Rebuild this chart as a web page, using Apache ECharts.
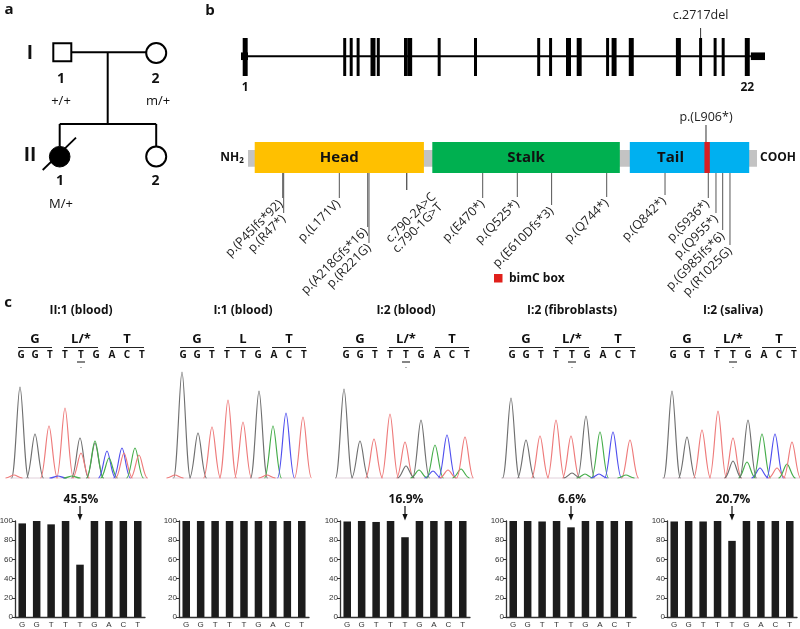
<!DOCTYPE html>
<html><head><meta charset="utf-8">
<script src="https://cdn.jsdelivr.net/npm/echarts@6/dist/echarts.min.js"></script>
<style>html,body{margin:0;padding:0;background:#fff}#c{width:800px;height:629px}</style>
</head><body><div id="c"></div>
<script>
// ================= DATA =================
// panel c: sequenced bases and samples
const bases = ['G','G','T','T','T','G','A','C','T'];
const samples = ['II:1 (blood)','I:1 (blood)','I:2 (blood)','I:2 (fibroblasts)','I:2 (saliva)'];
const codons = [['G','L/*','T'],['G','L','T'],['G','L/*','T'],['G','L/*','T'],['G','L/*','T']];
const mutantLabels = ['45.5%', '', '16.9%', '6.6%', '20.7%'];
// wild-type allele percentage per base
const wtII1blood   = [97.5,100,96.5,100,54.5,100,100,100,100];
const wtI1blood    = [100,100,100,100,100,100,100,100,100];
const wtI2blood    = [99.5,100,99,100,83.1,100,100,100,100];
const wtI2fibro    = [100,100,99.5,100,93.4,100,100,100,100];
const wtI2saliva   = [99.5,100,99.5,100,79.3,100,100,100,100];
// chromatogram peaks: [trace position, peak height, base channel]
const chromII1 = [[10,91,'G'],[25,44,'G'],[39,52,'T'],[55,70,'T'],[70,40,'G'],[71,25,'T'],[85,35,'G'],[85,37,'A'],[97,27,'C'],[99,20,'A'],[112,30,'C'],[114,25,'T'],[125,30,'A'],[129,23,'T'],[4,3,'T'],[48,2,'C'],[62,2,'A']];
const chromI1   = [[10,106,'G'],[26,45,'G'],[40,51,'T'],[56,78,'T'],[71,56,'T'],[87,87,'G'],[101,52,'A'],[114,65,'C'],[131,61,'T'],[3,3,'T'],[95,3,'T']];
const chromI2b  = [[9,89,'G'],[25,37,'G'],[39,39,'T'],[55,64,'T'],[70,36,'T'],[71,12,'G'],[84,8,'A'],[86,58,'G'],[98,7,'C'],[100,33,'A'],[112,43,'C'],[113,8,'T'],[126,9,'A'],[130,41,'T']];
const chromI2f  = [[10,80,'G'],[25,38,'G'],[39,42,'T'],[55,58,'T'],[70,42,'T'],[71,5,'G'],[84,4,'A'],[85,62,'G'],[99,46,'A'],[98,4,'C'],[112,46,'C'],[129,38,'T'],[125,3,'A']];
const chromI2s  = [[10,87,'G'],[25,41,'G'],[40,48,'T'],[56,67,'T'],[71,40,'T'],[71,17,'G'],[85,16,'A'],[86,58,'G'],[98,10,'C'],[100,44,'A'],[113,44,'C'],[115,10,'T'],[125,14,'A'],[130,36,'T']];
// panel b: gene exons (schematic position, thick flag)
const exonPos   = [8.0,197.9,210.3,223.5,251.9,262.0,313.9,321.9,378.2,447.5,568.1,590.8,625.0,645.4,699.6,712.0,744.8,834.7,877.1,904.8,920.2,966.2];
const exonThick = [1,0,0,0,1,0,0,1,0,0,0,0,1,1,0,1,1,1,0,0,0,1];
const exonLabels = {0:'1', 21:'22'};
const variantExon = 18; const variantName = 'c.2717del';
const utrSpans = [[0,13.4],[973,1000]];
// protein domains (schematic units)
const domainNames = ['Head','Stalk','Tail'];
const domainStart = [13.2,362.1,750.1];
const domainEnd   = [345.6,730.5,984.7];
const bimC = [896.7,907.3];
const mutNames = ['p.(P45Ifs*92)','p.(R47*)','p.(L171V)','p.(A218Gfs*16)','p.(R221G)','c.790-2A>C','c.790-1G>T','p.(E470*)','p.(Q525*)','p.(E610Dfs*3)','p.(Q744*)','p.(Q842*)','p.(S936*)','p.(Q955*)','p.(G985Ifs*6)','p.(R1025G)'];
const mutPos   = [68.2,70.1,179.4,235.2,237.7,311.8,311.8,461.1,529.1,596.5,704.7,819.3,904.3,919.4,932.6,946.9];
const topMutName = 'p.(L906*)'; const topMutPos = 899.8;

// ================= LAYOUT =================
const F = '"Open Sans","Noto Sans",sans-serif';
const off = [0,162,325,491,652];
const barOff = [0,164,325,491,652];
const mutLineBottom = [198,213,198,227,243,190,190,198,197,205,197,195,198,213,230,245];
const mutTextDx = [-2,0,-1,-2,0,27,34,0,0,0,0,-1,-1,0,0,0];
const mutTextDy = [4,4,4,3,3,5,15,4,5,4,4,4,4,4,4,4];
const chColors = {G:'#6f6f6f', T:'#ee7a7a', A:'#45ad4a', C:'#4f4fee'};
const domColors = ['#FFC000','#00B050','#00B0F0'];

const chart = echarts.init(document.getElementById('c'));
const grids = [], xAxes = [], yAxes = [], series = [];
const wtSets = [wtII1blood, wtI1blood, wtI2blood, wtI2fibro, wtI2saliva];
const chromSets = [chromII1, chromI1, chromI2b, chromI2f, chromI2s];

for (let i = 0; i < 5; i++) {
  grids.push({left: 15 + barOff[i], width: 130, top: 521, height: 96, outerBoundsMode: 'none'});
  xAxes.push({type:'category', gridIndex:i, data: bases.map((b,k)=>k),
    axisLine:{lineStyle:{color:'#333', width:1.3}}, axisTick:{show:false},
    axisLabel:{formatter:(v)=>bases[+v], fontSize:8, color:'#333', margin:4, fontFamily:'"Liberation Sans",Arial'}});
  yAxes.push({type:'value', gridIndex:i, min:0, max:100, interval:20, splitLine:{show:false},
    axisLine:{show:true, lineStyle:{color:'#333', width:1.3}}, axisTick:{show:true, length:3, lineStyle:{color:'#333'}},
    axisLabel:{fontSize:8, color:'#333', margin:2, fontFamily:'"Liberation Sans",Arial'}});
  series.push({type:'bar', xAxisIndex:i, yAxisIndex:i, data: wtSets[i], barCategoryGap:'48%',
    itemStyle:{color:'#1c1c1c'}, silent:true});
}
for (let i = 0; i < 5; i++) {
  grids.push({left: off[i] + 10, width: 140, top: 368, height: 110, outerBoundsMode: 'none'});
  xAxes.push({type:'value', gridIndex:5+i, min:0, max:140, show:false});
  yAxes.push({type:'value', gridIndex:5+i, min:0, max:110, show:false});
  series.push({type:'custom', xAxisIndex:5+i, yAxisIndex:5+i,
    data: chromSets[i].map(p => [p[0], p[1], 'GTAC'.indexOf(p[2])]),
    renderItem: (params, api) => {
      const x = api.value(0), h = api.value(1), ch = 'GTAC'[api.value(2)];
      const t = api.coord([x, h]), b = api.coord([x, 0]);
      const w = api.size([8.5, 0])[0];
      const s = {stroke: chColors[ch], fill: null, lineWidth: 1.15};
      return {type:'group', children:[
        {type:'bezierCurve', shape:{x1:t[0]-w, y1:b[1], cpx1:t[0]-0.55*w, cpy1:b[1], cpx2:t[0]-0.3*w, cpy2:t[1], x2:t[0], y2:t[1]}, style:s},
        {type:'bezierCurve', shape:{x1:t[0], y1:t[1], cpx1:t[0]+0.3*w, cpy1:t[1], cpx2:t[0]+0.55*w, cpy2:b[1], x2:t[0]+w, y2:b[1]}, style:s}
      ]};
    }});
}
// gene grid (10)
grids.push({left:241, width:524, top:38, height:38, outerBoundsMode:'none'});
xAxes.push({type:'value', gridIndex:10, min:0, max:1000, show:false});
yAxes.push({type:'value', gridIndex:10, min:0, max:1, show:false});
series.push({type:'custom', xAxisIndex:10, yAxisIndex:10, data:[[0, 973]],
  renderItem:(params, api)=>{
    const a = api.coord([api.value(0), 0.52]), b = api.coord([api.value(1), 0.52]);
    return {type:'line', shape:{x1:a[0], y1:a[1], x2:b[0], y2:b[1]}, style:{stroke:'#000', lineWidth:2}};
  }});
series.push({type:'custom', xAxisIndex:10, yAxisIndex:10, data: utrSpans,
  renderItem:(params, api)=>{
    const a = api.coord([api.value(0), 0.62]), b = api.coord([api.value(1), 0.42]);
    return {type:'rect', shape:{x:a[0], y:a[1], width:b[0]-a[0], height:b[1]-a[1]}, style:{fill:'#000'}};
  }});
series.push({type:'custom', xAxisIndex:10, yAxisIndex:10,
  data: exonPos.map((p,k)=>[p, exonThick[k] ? 9.5 : 5.7, k]),
  renderItem:(params, api)=>{
    const p = api.value(0), w = api.value(1), k = api.value(2);
    const a = api.coord([p - w/2, 1]), b = api.coord([p + w/2, 0]);
    const ch = [{type:'rect', shape:{x:a[0], y:a[1], width:b[0]-a[0], height:b[1]-a[1]}, style:{fill:'#000'}}];
    if (exonLabels[k]) ch.push({type:'text', x:(a[0]+b[0])/2, y:b[1]+12, style:{text:exonLabels[k], font:'bold 12px '+F, fill:'#111', align:'center', verticalAlign:'middle'}});
    if (k === variantExon) {
      const cx = (a[0]+b[0])/2;
      ch.push({type:'line', shape:{x1:cx, y1:a[1]-10, x2:cx, y2:a[1]}, style:{stroke:'#333', lineWidth:1}});
      ch.push({type:'text', x:cx, y:a[1]-23, style:{text:variantName, font:'12.5px '+F, fill:'#222', align:'center', verticalAlign:'middle'}});
    }
    return {type:'group', children:ch};
  }});
// protein grid (11)
grids.push({left:248, width:509, top:142, height:31, outerBoundsMode:'none'});
xAxes.push({type:'value', gridIndex:11, min:0, max:1000, show:false});
yAxes.push({type:'value', gridIndex:11, min:0, max:1, show:false});
series.push({type:'custom', xAxisIndex:11, yAxisIndex:11, data:[[0,1000]],
  renderItem:(params, api)=>{
    const a = api.coord([api.value(0), 0.74]), b = api.coord([api.value(1), 0.2]);
    return {type:'rect', shape:{x:a[0], y:a[1], width:b[0]-a[0], height:b[1]-a[1]}, style:{fill:'#C3C3C3'}};
  }});
series.push({type:'custom', xAxisIndex:11, yAxisIndex:11,
  data: domainNames.map((n,k)=>[domainStart[k], domainEnd[k], k]),
  renderItem:(params, api)=>{
    const k = api.value(2);
    const a = api.coord([api.value(0), 1]), b = api.coord([api.value(1), 0]);
    const cx = (a[0]+b[0])/2 + (k === 2 ? -19 : 0);
    return {type:'group', children:[
      {type:'rect', shape:{x:a[0], y:a[1], width:b[0]-a[0], height:b[1]-a[1]}, style:{fill:domColors[k]}},
      {type:'text', x:cx, y:(a[1]+b[1])/2, style:{text:domainNames[k], font:'bold 15px '+F, fill:'#111', align:'center', verticalAlign:'middle'}}
    ]};
  }});
series.push({type:'custom', xAxisIndex:11, yAxisIndex:11, data:[[bimC[0], bimC[1]]],
  renderItem:(params, api)=>{
    const a = api.coord([api.value(0), 1]), b = api.coord([api.value(1), 0]);
    return {type:'rect', shape:{x:a[0], y:a[1], width:b[0]-a[0], height:b[1]-a[1]}, style:{fill:'#D71E22'}};
  }});
series.push({type:'custom', xAxisIndex:11, yAxisIndex:11, data:[[topMutPos]],
  renderItem:(params, api)=>{
    const a = api.coord([api.value(0), 1]);
    return {type:'group', children:[
      {type:'line', shape:{x1:a[0], y1:a[1]-17, x2:a[0], y2:a[1]}, style:{stroke:'#333', lineWidth:1}},
      {type:'text', x:a[0], y:a[1]-25, style:{text:topMutName, font:'12.5px '+F, fill:'#222', align:'center', verticalAlign:'middle'}}
    ]};
  }});
series.push({type:'custom', xAxisIndex:11, yAxisIndex:11, data: mutPos.map((p,k)=>[p, k]),
  renderItem:(params, api)=>{
    const k = api.value(1);
    const a = api.coord([api.value(0), 0]);
    const yb = mutLineBottom[k];
    return {type:'group', children:[
      {type:'line', shape:{x1:a[0], y1:a[1], x2:a[0], y2:yb}, style:{stroke:'#555', lineWidth:1}},
      {type:'text', x:a[0]+mutTextDx[k], y:yb+mutTextDy[k], rotation:Math.PI/4,
       style:{text:mutNames[k], x:0, y:0, font:'12.5px '+F, fill:'#222', align:'right', verticalAlign:'middle'}}
    ]};
  }});

// ================= GRAPHIC (annotations) =================
const g = [];
const T = (x,y,text,font,align) => g.push({type:'text', x, y, style:{text, font, fill:'#111', align:align||'center', verticalAlign:'middle'}});
const L = (x1,y1,x2,y2,w,c) => g.push({type:'line', shape:{x1,y1,x2,y2}, style:{stroke:c||'#000', lineWidth:w||2}});
// panel letters
T(9,10,'a','bold 15px '+F); T(210,11,'b','bold 15px '+F); T(8,303,'c','bold 15px '+F);
// pedigree
L(71,52.3,146,52.3); L(107.7,52.3,107.7,124); L(59.7,124,156.2,124); L(59.7,124,59.7,146.5); L(156.2,124,156.2,146.5);
g.push({type:'rect', shape:{x:53.3,y:43.3,width:18,height:18}, style:{fill:'#fff', stroke:'#000', lineWidth:2}});
g.push({type:'circle', shape:{cx:156.2,cy:53,r:10}, style:{fill:'#fff', stroke:'#000', lineWidth:2}});
g.push({type:'circle', shape:{cx:59.7,cy:156.7,r:10.3}, style:{fill:'#000', stroke:'#000', lineWidth:1}});
g.push({type:'circle', shape:{cx:156.2,cy:156.5,r:10}, style:{fill:'#fff', stroke:'#000', lineWidth:2}});
L(42.7,170,76,137.7,1.8);
T(30,54,'I','bold 19px '+F); T(30,156,'II','bold 19px '+F);
T(61,79.5,'1','bold 14px '+F); T(155.5,79.5,'2','bold 14px '+F);
T(61,101.5,'+/+','13px '+F); T(158,101.5,'m/+','13px '+F);
T(60,181.5,'1','bold 14px '+F); T(155.5,181.5,'2','bold 14px '+F);
T(61,204,'M/+','13px '+F);
// protein ends & legend
g.push({type:'text', x:232, y:158, style:{rich:{a:{font:'bold 12px '+F, fill:'#111'}, s:{font:'bold 8px '+F, fill:'#111', padding:[5,0,0,0]}}, text:'{a|NH}{s|2}', align:'center', verticalAlign:'middle'}});
T(778,158,'COOH','bold 12px '+F);
g.push({type:'rect', shape:{x:494,y:274,width:8.5,height:8.5}, style:{fill:'#E0201B'}});
T(509,278.5,'bimC box','bold 12px '+F,'left');
// panel c headers
const codonCenters = [35,81,127], codonHalf = 17;
const baseX = [21,35,50,65,81,96,112,127,142];
for (let i = 0; i < 5; i++) {
  const o = off[i];
  T(o+81, 311, samples[i], 'bold 12px '+F);
  codons[i].forEach((c,k)=>{ T(o+codonCenters[k], 339.5, c, 'bold 13px '+F); L(o+codonCenters[k]-codonHalf, 347.5, o+codonCenters[k]+codonHalf, 347.5, 1.1, '#222'); });
  bases.forEach((b,k)=> T(o+baseX[k], 355.5, b, 'bold 10px '+F));
  if (codons[i][1] !== 'L') {
    L(o+77, 362, o+85, 362, 1.1, '#222');
    g.push({type:'circle', shape:{cx:o+81, cy:367.5, r:0.6}, style:{fill:'#555'}});
  }
  L(o+10, 478, o+148, 478, 0.8, '#d9c4d0');
  if (mutantLabels[i]) {
    const x = barOff[i] + 15 + 130/9*4.5;
    T(x+1, 500, mutantLabels[i], 'bold 12px '+F);
    L(x, 506, x, 516, 1.2, '#111');
    g.push({type:'polygon', shape:{points:[[x-2.6,514],[x+2.6,514],[x,520.5]]}, style:{fill:'#111'}});
  }
}

chart.setOption({animation:false, backgroundColor:'#fff', grid:grids, xAxis:xAxes, yAxis:yAxes, series, graphic:{elements:g}});
</script></body></html>
